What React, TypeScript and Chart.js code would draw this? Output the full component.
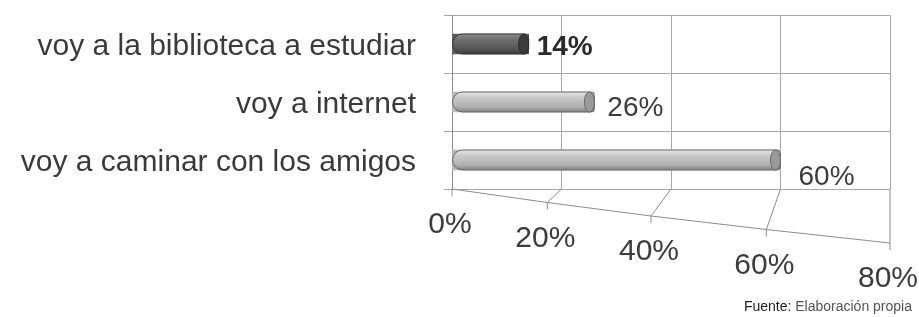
import { useEffect, useRef } from "react";
import { Chart, registerables } from "chart.js";
Chart.register(...registerables);

const categories = [
  "voy a la biblioteca a estudiar",
  "voy a internet",
  "voy a caminar con los amigos",
];
const values = [14, 26, 60];
const highlighted = [true, false, false];
const xTicks = [0, 20, 40, 60, 80];
const footnoteLabel = "Fuente:";
const footnoteText = " Elaboración propia";

const FONT = "'Liberation Sans', Arial, Helvetica, sans-serif";

// front edge of the perspective floor, relative to the scale
function frontPoint(chart: any, v: number, i: number) {
  const xs = chart.scales.x;
  const n = xTicks.length - 1;
  return {
    x: xs.getPixelForValue(v) - 20 * Math.sin((Math.PI * i) / n),
    y: chart.chartArea.bottom + (54 * i) / n,
  };
}

const cylinderPlugin = {
  id: "cylinder",
  beforeDatasetsDraw(chart: any) {
    const ctx = chart.ctx;
    const bottom = chart.chartArea.bottom;
    const xs = chart.scales.x;
    ctx.save();
    ctx.lineWidth = 1;
    ctx.strokeStyle = "#8c8c8c";
    const pts = xTicks.map((v, i) => frontPoint(chart, v, i));
    ctx.beginPath();
    pts.forEach((p, i) => (i === 0 ? ctx.moveTo(p.x, p.y) : ctx.lineTo(p.x, p.y)));
    ctx.stroke();
    xTicks.forEach((v, i) => {
      const p = pts[i];
      ctx.beginPath();
      ctx.moveTo(xs.getPixelForValue(v), bottom);
      ctx.lineTo(p.x, p.y);
      ctx.moveTo(p.x, p.y);
      ctx.lineTo(p.x, p.y + 7);
      ctx.stroke();
    });
    ctx.restore();
  },
  afterDatasetsDraw(chart: any) {
    const ctx = chart.ctx;
    const meta = chart.getDatasetMeta(0);
    meta.data.forEach((el: any, i: number) => {
      const p = el.getProps(["x", "y", "base", "height"], true);
      const h = p.height;
      const top = p.y - h / 2;
      const left = p.base;
      const right = p.x;
      const dark = highlighted[i];
      const g = ctx.createLinearGradient(0, top, 0, top + h);
      if (dark) {
        g.addColorStop(0, "#8a8a8a");
        g.addColorStop(0.3, "#6e6e6e");
        g.addColorStop(0.75, "#555555");
        g.addColorStop(1, "#3a3a3a");
      } else {
        g.addColorStop(0, "#e4e4e4");
        g.addColorStop(0.3, "#c8c8c8");
        g.addColorStop(0.75, "#b0b0b0");
        g.addColorStop(1, "#808080");
      }
      ctx.save();
      ctx.beginPath();
      ctx.roundRect(left, top, right - left, h, [h / 2, 4, 4, h / 2]);
      ctx.fillStyle = g;
      ctx.fill();
      ctx.lineWidth = 1;
      ctx.strokeStyle = dark ? "#3a3a3a" : "#6a6a6a";
      ctx.stroke();
      const rx = 5;
      ctx.beginPath();
      ctx.ellipse(right - rx, p.y, rx, h / 2, 0, 0, Math.PI * 2);
      ctx.fillStyle = dark ? "#3c3c3c" : "#9a9a9a";
      ctx.fill();
      ctx.strokeStyle = dark ? "#2a2a2a" : "#6a6a6a";
      ctx.stroke();
      ctx.restore();
    });
  },
  afterDraw(chart: any) {
    const ctx = chart.ctx;
    const meta = chart.getDatasetMeta(0);
    ctx.save();
    ctx.textBaseline = "middle";
    ctx.textAlign = "left";
    meta.data.forEach((el: any, i: number) => {
      const p = el.getProps(["x", "y"], true);
      ctx.font = (highlighted[i] ? "bold " : "") + "28px " + FONT;
      ctx.fillStyle = highlighted[i] ? "#2a2a2a" : "#3c3c3c";
      ctx.fillText(values[i] + "%", p.x + 8 + i * 5, p.y + 3 + i * i * 3.5);
    });
    ctx.textAlign = "center";
    ctx.font = "30px " + FONT;
    ctx.fillStyle = "#3c3c3c";
    xTicks.forEach((v, i) => {
      const p = frontPoint(chart, v, i);
      ctx.fillText(v + "%", p.x - 2, p.y + 36);
    });
    ctx.font = "14px " + FONT;
    ctx.textAlign = "right";
    const w = ctx.measureText(footnoteText).width;
    const fx = chart.width - 7;
    const fy = chart.height - 10;
    ctx.fillStyle = "#555555";
    ctx.fillText(footnoteText, fx, fy);
    ctx.fillStyle = "#1e1e1e";
    ctx.fillText(footnoteLabel, fx - w, fy);
    ctx.restore();
  },
};

export default function App() {
  const ref = useRef<HTMLCanvasElement>(null);
  useEffect(() => {
    document.body.style.margin = "0";
    const chart = new Chart(ref.current!, {
      type: "bar",
      data: {
        labels: categories,
        datasets: [
          {
            data: values,
            backgroundColor: values.map((_, i) => (highlighted[i] ? "#5a5a5a" : "#b8b8b8")),
            barThickness: 20,
          },
        ],
      },
      options: {
        indexAxis: "y",
        responsive: false,
        animation: false,
        layout: { padding: { top: 15, right: 29, left: 0, bottom: 0 } },
        plugins: { legend: { display: false }, tooltip: { enabled: false } },
        scales: {
          x: {
            type: "linear",
            min: 0,
            max: 80,
            ticks: { stepSize: 20, display: false },
            grid: { color: "#a8a8a8", drawTicks: false },
            border: { display: false },
            afterFit: (s: any) => {
              s.height = 128;
              s.paddingLeft = 0;
              s.paddingRight = 0;
            },
          },
          y: {
            type: "category",
            ticks: {
              font: { family: FONT, size: 30 },
              color: "#3a3a3a",
              padding: 28,
              labelOffset: 3,
            },
            grid: { offset: true, color: "#a8a8a8", tickLength: 8 },
            border: { color: "#8a8a8a" },
            afterFit: (s: any) => {
              s.width = 452;
              s.paddingTop = 0;
              s.paddingBottom = 0;
            },
          },
        },
      },
      plugins: [cylinderPlugin],
    });
    return () => chart.destroy();
  }, []);
  return <canvas ref={ref} width={919} height={317} style={{ display: "block" }} />;
}
